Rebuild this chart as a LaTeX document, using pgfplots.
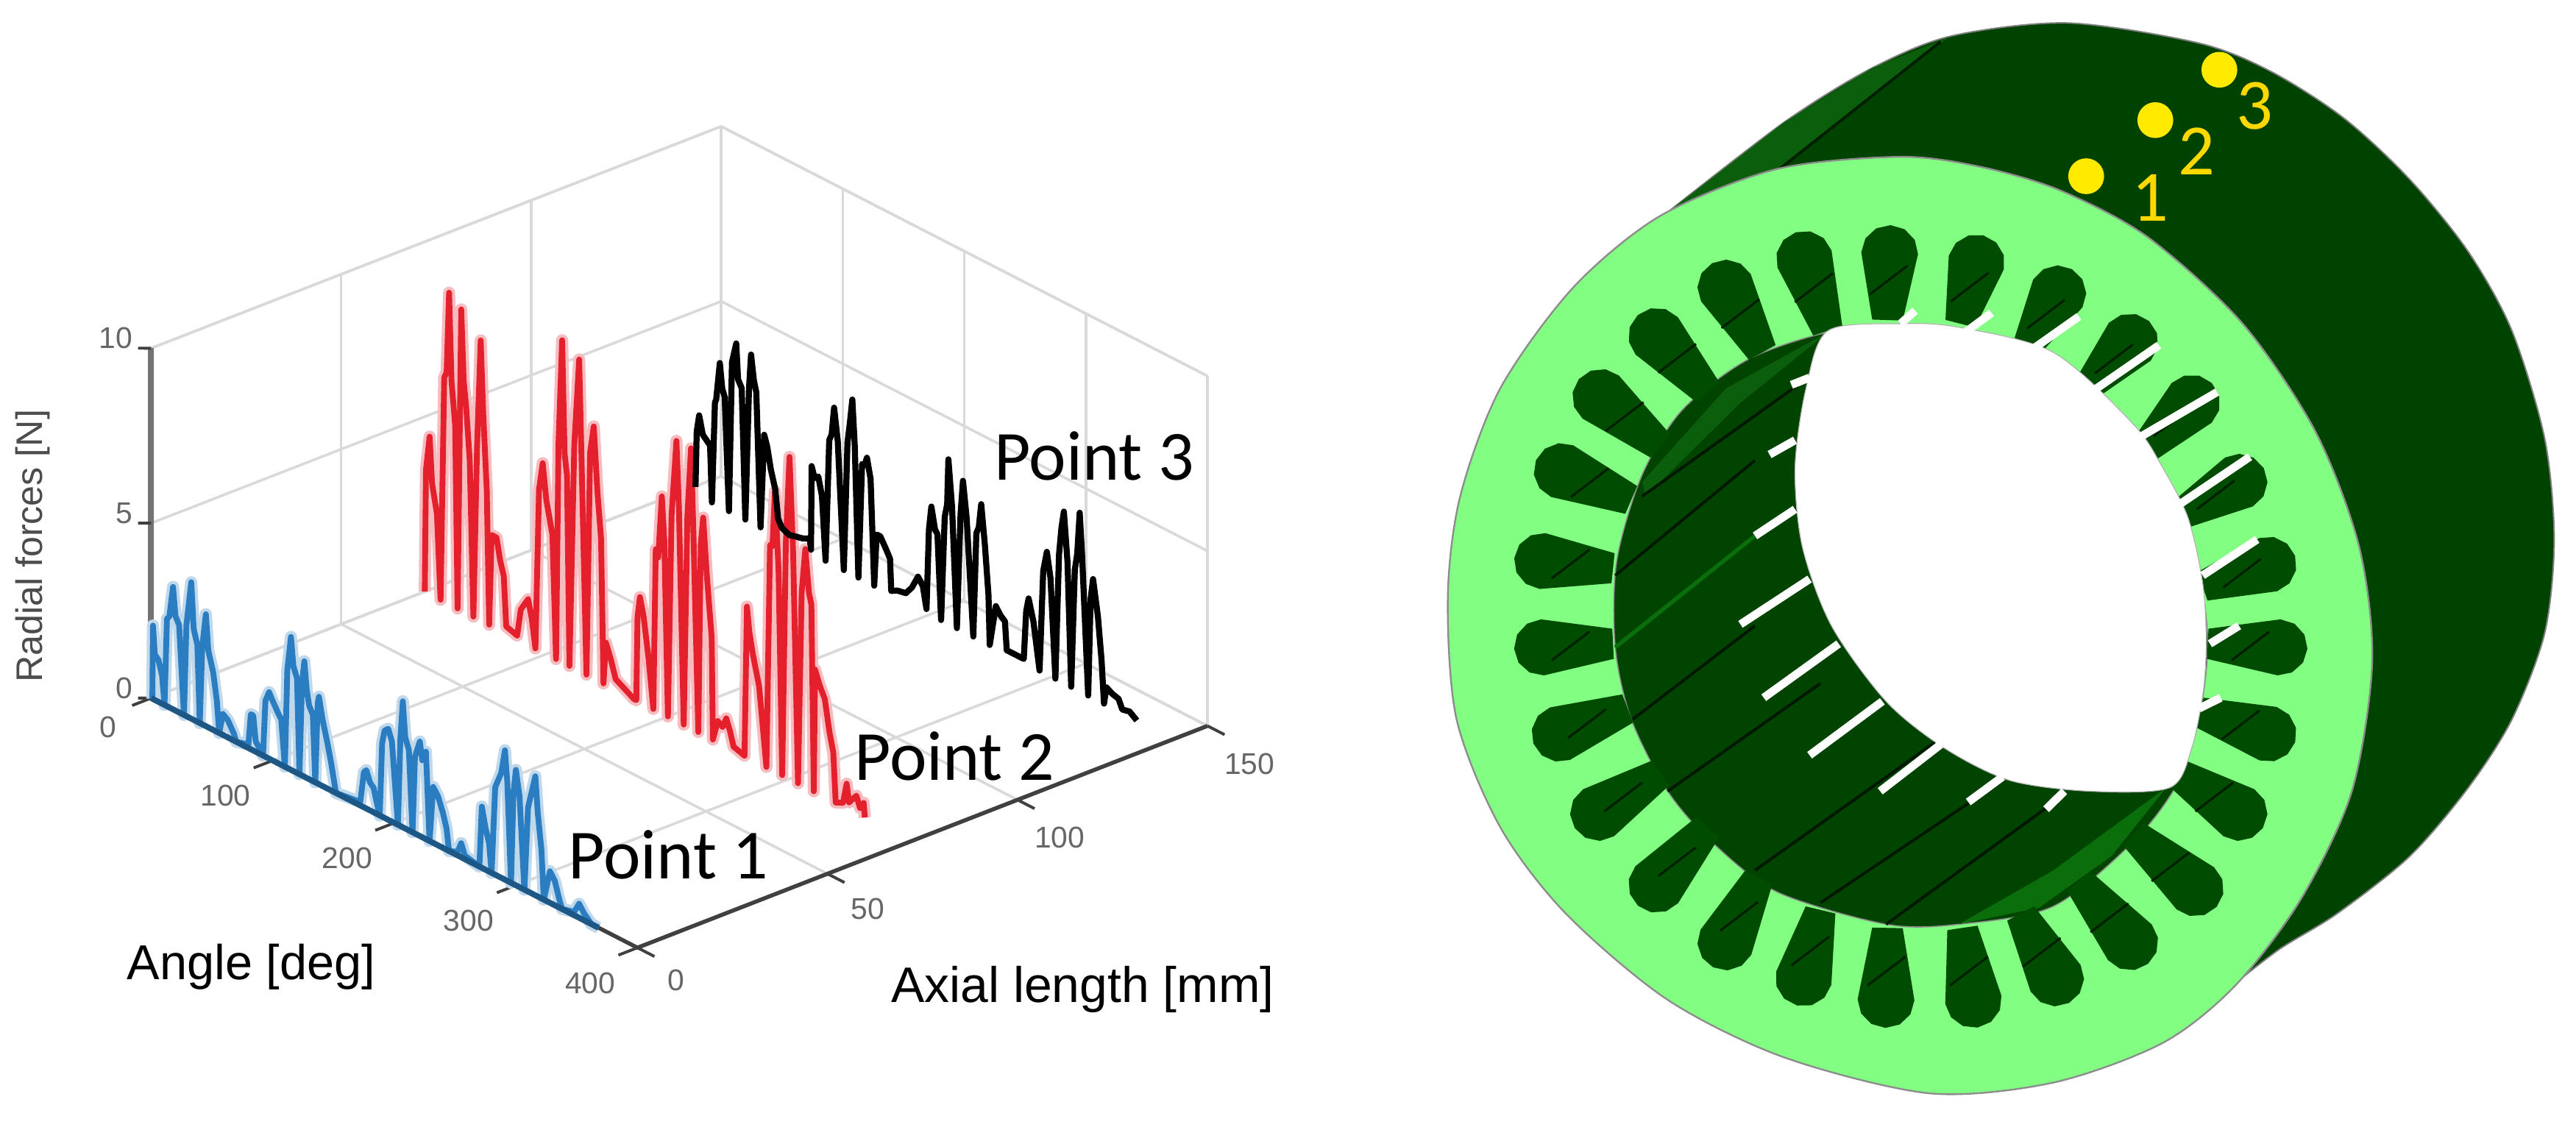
\documentclass[border=0pt]{standalone}
\usepackage{fontspec}
\setmainfont{Liberation Sans}
\newfontfamily\carlito{Carlito}
\usepackage{pgfplots}
\usepackage{pgfplotstable}
\pgfplotsset{compat=1.18}

\definecolor{mblue}{HTML}{2A7DC0}
\definecolor{mred}{HTML}{E4202C}
\definecolor{wall}{HTML}{004400}
\definecolor{body}{HTML}{004200}
\definecolor{ring}{HTML}{82FF82}
\definecolor{slotc}{HTML}{004C00}
\definecolor{stripe}{HTML}{0A6E0A}
\definecolor{facet}{HTML}{0B5E0B}
\definecolor{dot}{HTML}{FFEA00}
\definecolor{lab}{HTML}{FFD800}

% angle, axial position, radial force
\pgfplotstableread{
a y f
1 0 0
1.5 0 2.1
3 0 1.3
6 0 1.2
9 0 0.8
11 0 0
13 0 2.5
15 0 2.6
18 0 3.5
20 0 2.7
23 0 2.5
27 0 0
29 0 2.6
33 0 3.9
35 0 2.6
38 0 2.2
40 0 0
42 0 2.2
45 0 3.2
47 0 2.2
51 0 1.65
54 0 0.9
56 0 0
59 0 0.6
63 0 0.5
68 0 0.2
70 0 0
80 0 0.1
82 0 1.0
84 0 1.0
86 0 0.3
92 0 0
94 0 1.6
97 0 1.9
100 0 1.7
105 0 1.4
107 0 1.3
110 0 0
112 0 2.8
115 0 3.8
117 0 3.0
120 0 2.7
122 0 0
124 0 2.6
126 0 3.3
128 0 2.5
130 0 2.1
133 0 1.9
135 0 0
137 0 2.3
138 0 2.5
141 0 1.9
145 0 1.3
148 0 0.8
150 0 0.4
152 0 0
172 0 0.1
175 0 1.0
177 0 1.1
180 0 0.8
183 0 0.7
185 0 0.4
188 0 0
190 0 2.1
192 0 2.5
195 0 2.6
198 0 2.3
203 0 0
205 0 2.5
207 0 3.6
209 0 2.6
212 0 2.3
215 0 0
217 0 2.2
221 0 2.7
223 0 2.2
226 0 2.5
229 0 0
232 0 1.6
236 0 1.4
240 0 1.0
243 0 0.6
245 0 0
252 0 0.1
255 0 0.4
258 0 0.1
270 0 0
272 0 1.75
275 0 1.2
278 0 0.8
280 0 0
283 0 2.5
288 0 3.0
291 0 3.7
293 0 2.8
296 0 0
298 0 2.6
300 0 3.3
303 0 2.6
307 0 0
310 0 2.4
316 0 3.4
318 0 2.4
321 0 1.4
323 0 0
328 0 0.9
332 0 0.7
336 0 0.2
338 0 0
348 0 0.1
352 0 0.4
356 0 0.2
362 0 0
368 0 0
}\pointone

\pgfplotstableread{
a y f
0 72 0
1 72 3.5
4 72 4.5
6 72 3.2
10 72 2.4
13 72 0
16 72 6.4
18 72 6.6
20 72 8.9
22 72 6.4
25 72 5.2
27 72 0
30 72 8.6
32 72 6.6
34 72 5.9
37 72 4.4
40 72 0
43 72 4.9
46 72 8.0
48 72 6.0
51 72 3.8
53 72 0
55 72 2.6
59 72 2.6
62 72 2.0
65 72 1.6
67 72 0.2
76 72 0.1
79 72 0.9
85 72 1.3
88 72 0.8
91 72 0
94 72 4.6
97 72 5.4
100 72 4.4
105 72 3.5
108 72 0
110 72 6.2
113 72 9.2
115 72 6.0
117 72 5.4
119 72 0
123 72 6.4
127 72 8.9
129 72 6.0
133 72 0
136 72 6.4
139 72 7.2
142 72 5.4
145 72 4.1
147 72 0
149 72 1.2
153 72 0.8
157 72 0.3
172 72 0
174 72 0
175 72 2.4
177 72 3.0
180 72 2.5
184 72 1.4
188 72 0
190 72 4.6
192 72 4.4
195 72 6.2
197 72 5.0
200 72 0
203 72 5.8
207 72 8.0
209 72 6.2
213 72 0
216 72 6.0
219 72 8.0
221 72 5.6
225 72 0
227 72 5.4
229 72 6.2
232 72 4.6
236 72 2.9
237 72 0
241 72 0.6
245 72 0.5
248 72 0.8
251 72 0.5
254 72 0.1
263 72 0
265 72 4.3
267 72 3.6
270 72 3.0
275 72 2.2
281 72 0
284 72 6.4
286 72 6.4
288 72 8.0
291 72 5.8
294 72 0
297 72 6.7
300 72 9.2
303 72 6.5
307 72 0
310 72 5.5
313 72 6.8
316 72 5.6
318 72 5.3
320 72 0
321 72 3.5
325 72 3.1
329 72 2.8
333 72 1.9
336 72 1.4
338 72 0
344 72 0.1
347 72 0.7
349 72 0.2
355 72 0.5
358 72 0.2
361 72 0.4
362 72 0
}\pointtwo

\pgfplotstableread{
a y f
7 141 0.2
8 141 1.8
10 141 2.3
13 141 1.8
16 141 1.7
19 141 1.6
20.5 141 0
23 141 2.9
24 141 3.0
27 141 4.1
29 141 3.4
31 141 3.2
34.5 141 0
37 141 4.3
40.5 141 4.9
42 141 3.9
45 141 3.7
48 141 0
51 141 3.8
52.7 141 4.8
55 141 4.1
57 141 3.8
60.5 141 0
63.5 141 2.7
66 141 2.4
69 141 1.8
72.6 141 1.3
75 141 0.5
78 141 0.3
84 141 0.2
89 141 0.25
95 141 0.3
101 141 0.4
102 141 0.1
102.5 141 2.5
105 141 2.2
108 141 2.3
111 141 1.8
114 141 0
117 141 3.5
119 141 3.7
121 141 4.5
124 141 3.6
129 141 0
132 141 3.7
134 141 4.3
136 141 5.0
138 141 3.7
141 141 0
144 141 3.3
146 141 3.3
148 141 3.55
151 141 3.0
154 141 0
156 141 1.5
159 141 1.5
164 141 1.2
167 141 1.0
168 141 0.1
173 141 0.2
180 141 0.25
185 141 0.5
190 141 0.9
194 141 0.7
197 141 0.1
199 141 2.4
201 141 3.1
204 141 2.5
206 141 2.4
209 141 0
212 141 3.0
214 141 3.4
215 141 4.7
218 141 3.4
222 141 0
225 141 3.3
227 141 4.3
230 141 3.3
235.5 141 0
238 141 3.0
240 141 3.2
242 141 3.9
245 141 2.8
248 141 1.4
249 141 0
254 141 1.2
258 141 1.0
261.5 141 0.9
263 141 0.1
270 141 0.1
277 141 0.1
279 141 1.5
281 141 1.9
285 141 1.3
290 141 0
293 141 2.9
296 141 3.5
299 141 2.8
303 141 0
306 141 3.6
308 141 4.4
310 141 4.9
313 141 3.5
316 141 0
319 141 3.4
321 141 3.9
323 141 5.1
325 141 3.9
330 141 0
332 141 2.8
334 141 3.4
338 141 2.4
341 141 1.2
343 141 0
345 141 0.5
350 141 0.4
355 141 0.35
358 141 0.1
364 141 0.15
370 141 0
}\pointthree

% one stator slot, from the centre of its round end to its narrow mouth
\newcommand\slot[4]{%
  \pgfmathsetmacro\ox{#1}\pgfmathsetmacro\oy{#2}%
  \pgfmathsetmacro\ll{veclen(#1-#3,#2-#4)}%
  \pgfmathsetmacro\dx{(#1-#3)/\ll}\pgfmathsetmacro\dy{(#2-#4)/\ll}%
  \pgfmathsetmacro\nx{-\dy}\pgfmathsetmacro\ny{\dx}%
  \def\R{39}\def\r{21}%
  \gdef\clist{}%
  \pgfmathsetmacro\px{#3+\r*\nx}\pgfmathsetmacro\py{#4+\r*\ny}\xdef\clist{\clist(\px,\py)}%
  \slotpt{1}{0}\slotpt{.87}{.5}\slotpt{.5}{.87}\slotpt{0}{1}%
  \slotpt{-.5}{.87}\slotpt{-.87}{.5}\slotpt{-1}{0}%
  \pgfmathsetmacro\px{#3-\r*\nx}\pgfmathsetmacro\py{#4-\r*\ny}\xdef\clist{\clist(\px,\py)}%
  \edef\tmp{\noexpand\addplot[slotfill] coordinates {\clist};}\tmp
  \pgfmathsetmacro\mx{.6*#1+.4*#3}\pgfmathsetmacro\my{.6*#2+.4*#4}%
  \pgfmathsetmacro\ax{\mx-26}\pgfmathsetmacro\ay{\my+20}%
  \pgfmathsetmacro\bx{\mx+26}\pgfmathsetmacro\by{\my-20}%
  \edef\tmp{\noexpand\addplot[slotline] coordinates {(\ax,\ay)(\bx,\by)};}\tmp
}
\newcommand\slotpt[2]{%
  \pgfmathsetmacro\px{\ox+#1*\R*\nx+#2*\R*\dx}%
  \pgfmathsetmacro\py{\oy+#1*\R*\ny+#2*\R*\dy}%
  \xdef\clist{\clist(\px,\py)}}

\begin{document}
\begin{tikzpicture}
\useasboundingbox (0,0) rectangle (15.68,6.875);

% force plot
\begin{axis}[
    at={(0.92cm,2.625cm)}, anchor=origin,
    x={(0.0074cm,-0.0038cm)}, y={(0.02313cm,0.0090cm)}, z={(0cm,0.213cm)},
    xmin=0, xmax=400, ymin=0, ymax=150, zmin=0, zmax=10,
    xtick={0,100,200,300,400}, ytick={0,50,100,150}, ztick={0,5,10},
    xtick pos=lower, ytick pos=lower, ztick pos=lower,
    grid=major,
    grid style={gray!30, line width=0.45pt},
    axis line style={gray!30, line width=0.45pt},
    major tick length=0pt,
    ticklabel style={font=\fontsize{5.2}{6}\selectfont, text=black!60},
    xticklabel style={xshift=-1.2mm, yshift=0.3mm},
    yticklabel style={xshift=1.1mm, yshift=0.1mm},
    zticklabel style={anchor=east, xshift=0.1mm, yshift=0.6mm},
    /pgf/number format/assume math mode=true,
    clip=false,
]
\addplot3[black!75, line width=0.7pt] coordinates {(0,0,0) (400,0,0) (400,150,0)};
\addplot3[black!55, line width=1pt] coordinates {(0,0,0) (0,0,10)};
% tick marks
\addplot3[black!75, line width=0.5pt] coordinates {(0,0,0) (0,-5,0)};
\addplot3[black!75, line width=0.5pt] coordinates {(100,0,0) (100,-5,0)};
\addplot3[black!75, line width=0.5pt] coordinates {(200,0,0) (200,-5,0)};
\addplot3[black!75, line width=0.5pt] coordinates {(300,0,0) (300,-5,0)};
\addplot3[black!75, line width=0.5pt] coordinates {(400,0,0) (400,-5,0)};
\addplot3[black!75, line width=0.5pt] coordinates {(400,0,0) (414,0,0)};
\addplot3[black!75, line width=0.5pt] coordinates {(400,50,0) (414,50,0)};
\addplot3[black!75, line width=0.5pt] coordinates {(400,100,0) (414,100,0)};
\addplot3[black!75, line width=0.5pt] coordinates {(400,150,0) (414,150,0)};
\addplot3[black!75, line width=0.5pt] coordinates {(0,0,0) (-4.7,-1.94,0)};
\addplot3[black!75, line width=0.5pt] coordinates {(0,0,5) (-4.7,-1.94,5)};
\addplot3[black!75, line width=0.5pt] coordinates {(0,0,10) (-4.7,-1.94,10)};
\addplot3[mblue!30, line width=2.1pt, line join=round] table[x=a, y=y, z=f] {\pointone};
\addplot3[mblue, line width=1pt, line join=round] table[x=a, y=y, z=f] {\pointone};
\addplot3[mblue!70!black, line width=1pt] coordinates {(0,0,0) (368,0,0)};
\addplot3[mred!30, line width=2.1pt, line join=round] table[x=a, y=y, z=f] {\pointtwo};
\addplot3[mred, line width=1pt, line join=round] table[x=a, y=y, z=f] {\pointtwo};
\addplot3[black, line width=1.05pt, line join=round] table[x=a, y=y, z=f] {\pointthree};
\end{axis}

\node[text=black!70, rotate=90, font=\fontsize{6.4}{7}\selectfont] at (0.20,3.55) {Radial forces [N]};
\node[font=\fontsize{8.5}{10}\selectfont] at (1.53,0.99) {Angle [deg]};
\node[font=\fontsize{8.65}{10}\selectfont] at (6.59,0.85) {Axial length [mm]};
\node[font=\carlito\fontsize{12.2}{14}\selectfont] at (4.07,1.67) {Point 1};
\node[font=\carlito\fontsize{12.2}{14}\selectfont] at (5.81,2.27) {Point 2};
\node[font=\carlito\fontsize{12.2}{14}\selectfont] at (6.66,4.10) {Point 3};

% stator, in the pixels of the drawing
\begin{axis}[
    at={(8.733cm,0cm)}, anchor=south west,
    width=6.947cm, height=6.875cm, scale only axis,
    xmin=0, xmax=1568, ymin=0, ymax=1570, y dir=reverse,
    hide axis, clip=false,
    slotfill/.style={draw=none, fill=slotc, line join=round},
    slotline/.style={color=black!65!green!35!black, line width=0.4pt},
]
\addplot[smooth, draw=black!50, line width=0.25pt, fill=body] coordinates {
  (320,295) (480,170) (600,95) (710,50) (870,32) (1050,60) (1150,100) (1250,165)
  (1340,250) (1420,350) (1480,460) (1525,610) (1538,750) (1525,880) (1480,1000)
  (1420,1095) (1340,1190) (1240,1270) (1160,1320) (1090,1375)};
\addplot[fill=facet, draw=none] coordinates {(320,295) (480,170) (600,95) (705,52) (480,232)};
\addplot[color=black!65!green!35!black, line width=0.5pt] coordinates {(470,238) (695,58)};
\addplot[smooth cycle, draw=black!45, line width=0.3pt, fill=ring] coordinates {
  (640,218) (470,235) (310,300) (190,400) (90,540) (35,690) (18,830) (30,1000)
  (90,1150) (180,1270) (320,1390) (480,1470) (680,1520) (850,1505) (1000,1450)
  (1100,1370) (1190,1250) (1260,1100) (1288,920) (1270,760) (1210,600) (1110,450)
  (980,330) (860,265) (750,232)};
\addplot[smooth cycle, draw=black!45, line width=0.2pt, fill=wall] coordinates {
  (640,455) (540,462) (430,500) (340,570) (285,660) (250,780) (248,900) (270,1000)
  (320,1100) (380,1170) (470,1240) (620,1285) (720,1285) (850,1260) (960,1170)
  (1020,1090) (1050,1000) (1062,890) (1045,770) (1000,660) (950,585) (890,535)
  (810,490) (720,460)};

% lit strips of the bore wall
\addplot[fill=facet, draw=none] coordinates {(285,670) (400,540) (540,462) (420,560) (290,690)};
\addplot[fill=stripe, draw=none] coordinates {(720,1285) (850,1210) (1005,1095) (930,1190) (830,1262)};
\foreach \xa/\ya/\xb/\yb in {
  248/800/440/640, 272/1000/440/870, 320/1100/530/950, 440/1210/690/1030,
  530/1255/780/1085, 620/1285/865/1105, 285/690/520/520} {
  \edef\tmp{\noexpand\addplot[color=black!70!green!30!black, line width=0.5pt]
    coordinates {(\xa,\ya)(\xb,\yb)};}\tmp
}
\addplot[stripe, line width=0.7pt] coordinates {(248,900) (440,745)};

\slot{625}{352}{622}{445}
\slot{744}{365}{722}{450}
\slot{856}{408}{815}{480}
\slot{955}{475}{900}{535}
\slot{1040}{560}{975}{625}
\slot{1105}{670}{1025}{715}
\slot{1145}{785}{1055}{815}
\slot{1160}{900}{1062}{895}
\slot{1145}{1020}{1050}{990}
\slot{1105}{1130}{1020}{1075}
\slot{1045}{1235}{960}{1160}
\slot{955}{1310}{885}{1225}
\slot{853}{1360}{805}{1270}
\slot{740}{1390}{725}{1290}
\slot{620}{1390}{622}{1290}
\slot{507}{1360}{530}{1265}
\slot{400}{1310}{445}{1220}
\slot{305}{1230}{375}{1150}
\slot{225}{1130}{310}{1075}
\slot{172}{1020}{265}{985}
\slot{148}{900}{245}{895}
\slot{148}{780}{245}{790}
\slot{175}{655}{270}{695}
\slot{228}{552}{310}{620}
\slot{305}{467}{375}{545}
\slot{400}{400}{450}{490}
\slot{508}{360}{540}{460}

% the open bore, seen through
\addplot[smooth cycle, fill=white, draw=black!30, line width=0.15pt] coordinates {
  (540,460) (510,540) (495,650) (505,760) (545,870) (620,975) (700,1040) (790,1085)
  (900,1100) (1010,1095) (1040,1040) (1056,960) (1060,890) (1055,810) (1035,720)
  (1000,650) (960,590) (850,490) (720,455) (640,450)};

% light through the slots
\foreach \xa/\ya/\xb/\yb in {
  895/550/995/480, 965/610/1075/545, 1025/700/1120/635, 1055/800/1130/750,
  1065/895/1105/870, 1050/985/1080/970, 815/490/885/440, 725/465/765/435,
  640/450/660/432, 460/632/495/612, 440/745/495/708, 420/868/515/805,
  452/970/555/895, 515/1050/615/975, 612/1100/695/1035, 733/1115/780/1080,
  840/1125/865/1100, 490/535/515/525} {
  \edef\tmp{\noexpand\addplot[white, line width=1.4pt]
    coordinates {(\xa,\ya)(\xb,\yb)};}\tmp
}

\addplot[only marks, mark=*, mark size=2.9pt, mark options={fill=dot, draw=dot}] coordinates {
  (895,245) (990,167) (1078,97)};
\node[text=lab, font=\carlito\fontsize{12.5}{14}\selectfont] at (axis cs:983,275) {1};
\node[text=lab, font=\carlito\fontsize{12.5}{14}\selectfont] at (axis cs:1047,210) {2};
\node[text=lab, font=\carlito\fontsize{12.5}{14}\selectfont] at (axis cs:1127,147) {3};
\end{axis}
\end{tikzpicture}
\end{document}
